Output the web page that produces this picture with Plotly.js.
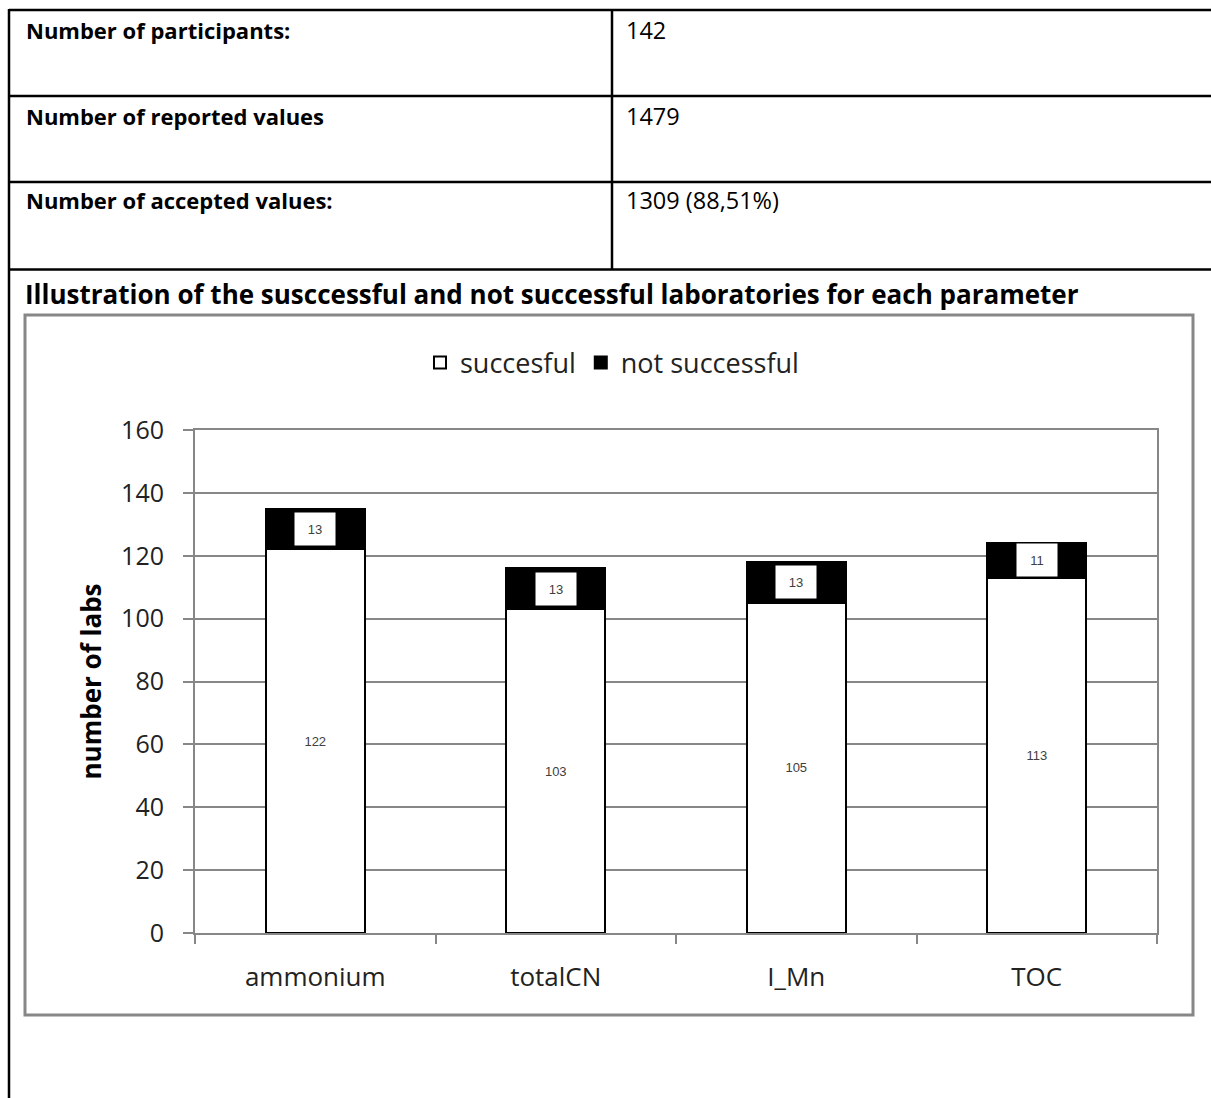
<!DOCTYPE html>
<html>
<head>
<meta charset="utf-8">
<script src="https://cdn.plot.ly/plotly-3.0.1.min.js"></script>
<style>
  html, body { margin: 0; padding: 0; background: #ffffff; }
  #chart { width: 1211px; height: 1098px; }
</style>
</head>
<body>
<div id="chart"></div>
<script>
// ---- data ----
const categories = ['ammonium', 'totalCN', 'I_Mn', 'TOC'];
const successful = [122, 103, 105, 113];
const notSuccessful = [13, 13, 13, 11];
const legendNames = ['succesful', 'not successful'];
const yTickValues = [0, 20, 40, 60, 80, 100, 120, 140, 160];
const yTitle = 'number of labs';
const tableLabels = ['Number of participants:', 'Number of reported values', 'Number of accepted values:'];
const tableValues = ['142', '1479', '1309 (88,51%)'];
const sectionTitle = 'Illustration of the susccessful and not successful laboratories for each parameter';

// ---- layout geometry (pixels) ----
const W = 1211, H = 1098;
const M = { l: 195, r: 54, t: 430, b: 165 };
const PW = W - M.l - M.r, PH = H - M.t - M.b;
const px = x => (x - M.l) / PW;
const py = y => (H - M.b - y) / PH;

const textFont = 'Open Sans, Noto Sans, sans-serif';
const black = '#000000';
const gray = '#878787';

const traces = [
  {
    type: 'bar',
    name: legendNames[0],
    x: categories,
    y: successful,
    text: successful.map(String),
    textposition: 'inside',
    insidetextanchor: 'middle',
    textangle: 0,
    constraintext: 'none',
    textfont: { family: 'Liberation Sans, Arial, sans-serif', size: 13, color: '#404040' },
    marker: { color: '#ffffff', line: { color: black, width: 2 } },
    hoverinfo: 'x+y+name'
  },
  {
    type: 'bar',
    name: legendNames[1],
    x: categories,
    y: notSuccessful,
    marker: { color: black, line: { color: black, width: 2 } },
    hoverinfo: 'x+y+name'
  }
];

const shapes = [];
const annotations = [];

// table lines
const tl = (x0, y0, x1, y1) => shapes.push({
  type: 'line', xref: 'paper', yref: 'paper',
  x0: px(x0), y0: py(y0), x1: px(x1), y1: py(y1),
  line: { color: black, width: 2.5 }, layer: 'above'
});
tl(9, 10, 1215, 10);
tl(9, 96, 1215, 96);
tl(9, 182, 1215, 182);
tl(9, 269.5, 1215, 269.5);
tl(9, 9, 9, 1102);
tl(612, 10, 612, 269.5);

// chart frame
shapes.push({
  type: 'rect', xref: 'paper', yref: 'paper',
  x0: px(25), y0: py(315), x1: px(1193), y1: py(1015),
  line: { color: gray, width: 3 }, fillcolor: 'rgba(0,0,0,0)', layer: 'below'
});

// table texts
const rowY = [29.5, 115.5, 199.5];
tableLabels.forEach((t, i) => {
  annotations.push({
    xref: 'paper', yref: 'paper', x: px(24), y: py(rowY[i]),
    xanchor: 'left', yanchor: 'middle', showarrow: false,
    text: '<b>' + t + '</b>',
    font: { family: textFont, size: 22, color: black }
  });
  annotations.push({
    xref: 'paper', yref: 'paper', x: px(624), y: py(rowY[i]),
    xanchor: 'left', yanchor: 'middle', showarrow: false,
    text: tableValues[i],
    font: { family: textFont, size: 23.5, color: black }
  });
});
annotations.push({
  xref: 'paper', yref: 'paper', x: px(23), y: py(294),
  xanchor: 'left', yanchor: 'middle', showarrow: false,
  text: '<b>' + sectionTitle + '</b>',
  font: { family: textFont, size: 26, color: black }
});

// labels for the not-successful segments (white boxes)
categories.forEach((c, i) => {
  annotations.push({
    xref: 'x', yref: 'y', x: c, y: successful[i] + notSuccessful[i] / 2,
    text: String(notSuccessful[i]), showarrow: false,
    bgcolor: '#ffffff', borderpad: 0, width: 40, height: 32,
    font: { family: 'Liberation Sans, Arial, sans-serif', size: 13, color: '#404040' }
  });
});

const layout = {
  width: W, height: H,
  margin: M,
  paper_bgcolor: '#ffffff',
  plot_bgcolor: '#ffffff',
  barmode: 'stack',
  bargap: 0.59,
  showlegend: true,
  legend: {
    orientation: 'h', x: px(612), xanchor: 'center', y: py(363), yanchor: 'middle',
    font: { family: textFont, size: 27, color: '#222222' },
    traceorder: 'normal', bgcolor: 'rgba(0,0,0,0)'
  },
  xaxis: {
    type: 'category',
    showline: true, linecolor: gray, linewidth: 2, mirror: true,
    ticks: 'outside', tickson: 'boundaries', ticklen: 9, tickcolor: gray, tickwidth: 2,
    ticklabelstandoff: 20,
    tickfont: { family: textFont, size: 26, color: '#222222' },
    showgrid: false, fixedrange: true
  },
  yaxis: {
    range: [0, 160], tickvals: yTickValues,
    showline: true, linecolor: gray, linewidth: 2, mirror: true,
    showgrid: true, gridcolor: gray, gridwidth: 2, zeroline: false,
    ticks: 'outside', ticklen: 10, tickcolor: gray, tickwidth: 2,
    ticklabelstandoff: 14,
    tickfont: { family: textFont, size: 25, color: '#222222' },
    title: { text: '<b>' + yTitle + '</b>', standoff: 12, font: { family: textFont, size: 26, color: black } },
    automargin: false, fixedrange: true
  },
  shapes: shapes,
  annotations: annotations
};

Plotly.newPlot('chart', traces, layout, { displayModeBar: false, staticPlot: true });
</script>
</body>
</html>
